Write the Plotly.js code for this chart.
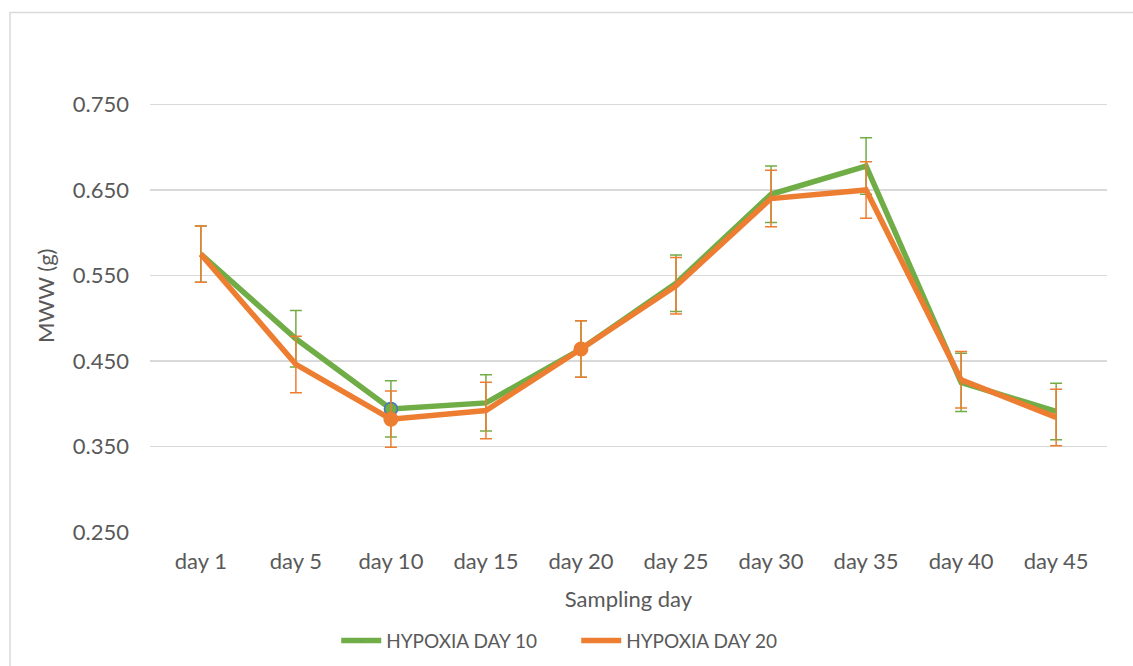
<!DOCTYPE html>
<html>
<head>
<meta charset="utf-8">
<script src="https://cdn.plot.ly/plotly-3.0.1.min.js"></script>
<style>html,body{margin:0;padding:0;background:#fff;}#chart{width:1133px;height:666px;}</style>
</head>
<body>
<div id="chart"></div>
<script>
const categories = ["day 1","day 5","day 10","day 15","day 20","day 25","day 30","day 35","day 40","day 45"];
const hypoxia10 = [0.575, 0.476, 0.394, 0.401, 0.464, 0.541, 0.645, 0.678, 0.425, 0.391];
const hypoxia10Err = [0.033, 0.033, 0.033, 0.033, 0.033, 0.033, 0.033, 0.033, 0.034, 0.033];
const hypoxia20 = [0.575, 0.446, 0.382, 0.392, 0.464, 0.538, 0.640, 0.650, 0.428, 0.384];
const hypoxia20Err = [0.033, 0.033, 0.033, 0.033, 0.033, 0.033, 0.033, 0.033, 0.033, 0.033];
const yTickVals = [0.25, 0.35, 0.45, 0.55, 0.65, 0.75];
const yTickText = ["0.250","0.350","0.450","0.550","0.650","0.750"];
const markerSize10 = [0,0,13,0,0,0,0,0,0,0];
const markerEdge10 = [0,0,1.5,0,0,0,0,0,0,0];
const markerSize20 = [0,0,15,0,15,0,0,0,0,0];

const GREEN = "#70AD47", ORANGE = "#ED7D31", TXT = "#595959", GRID = "#D9D9D9";
const FONT = "Lato, 'Open Sans', sans-serif";

const traces = [
  {
    x: categories, y: hypoxia10, name: "HYPOXIA DAY 10", type: "scatter", mode: "lines+markers",
    line: {color: GREEN, width: 5.5},
    marker: {color: GREEN, size: markerSize10, opacity: 1, line: {color: "#4472C4", width: markerEdge10}},
    error_y: {type: "data", array: hypoxia10Err, visible: true, color: GREEN, thickness: 1.5, width: 6}
  },
  {
    x: categories, y: hypoxia20, name: "HYPOXIA DAY 20", type: "scatter", mode: "lines+markers",
    line: {color: ORANGE, width: 5.5},
    marker: {color: ORANGE, size: markerSize20, opacity: 1, line: {width: 0}},
    error_y: {type: "data", array: hypoxia20Err, visible: true, color: ORANGE, thickness: 1.5, width: 6}
  }
];

const layout = {
  width: 1133, height: 666,
  margin: {l: 150, r: 26, t: 19, b: 134, autoexpand: false},
  paper_bgcolor: "#fff", plot_bgcolor: "#fff",
  font: {family: FONT, color: TXT, size: 20},
  showlegend: true,
  legend: {orientation: "h", x: 0.1946, xanchor: "left", y: -0.212, yanchor: "middle",
           entrywidth: 185, entrywidthmode: "pixels",
           font: {family: FONT, size: 19, color: TXT}, itemwidth: 40},
  xaxis: {
    type: "category", showgrid: false, zeroline: false, showline: false, automargin: false,
    ticks: "", ticklabelstandoff: 14,
    tickfont: {family: FONT, size: 22, color: TXT},
    title: {text: "Sampling day", font: {family: FONT, size: 22, color: TXT}, standoff: 18}
  },
  yaxis: {
    range: [0.25, 0.85], tickvals: yTickVals, ticktext: yTickText, automargin: false,
    showgrid: true, gridcolor: GRID, gridwidth: 1.5, zeroline: false, showline: false,
    ticks: "", ticklabelstandoff: 20,
    tickfont: {family: FONT, size: 22, color: TXT}
  },
  annotations: [
    {text: "MWW (g)", xref: "paper", yref: "paper", x: -0.1097, y: 0.46,
     xanchor: "center", yanchor: "middle", textangle: -90, showarrow: false,
     font: {family: FONT, size: 22, color: TXT}}
  ],
  shapes: [
    {type: "rect", xref: "paper", yref: "paper", x0: -0.1463, y0: -1, x1: 2, y1: 1.0127,
     line: {color: GRID, width: 1.5}, fillcolor: "rgba(0,0,0,0)", layer: "below"}
  ]
};

Plotly.newPlot("chart", traces, layout, {displayModeBar: false, staticPlot: true});
</script>
</body>
</html>
